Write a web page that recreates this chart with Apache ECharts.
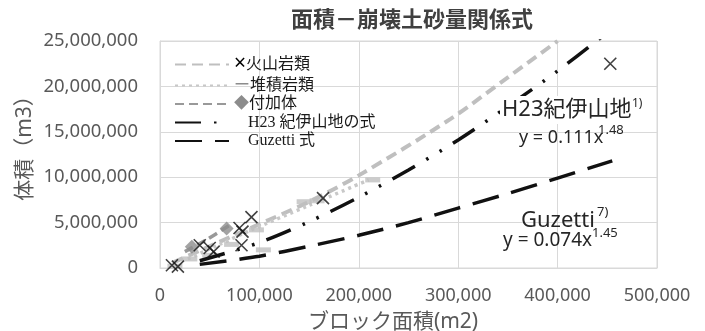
<!DOCTYPE html>
<html>
<head>
<meta charset="utf-8">
<script src="https://cdn.jsdelivr.net/npm/echarts@6/dist/echarts.min.js"></script>
<style>html,body{margin:0;padding:0;background:#fff}#c{width:705px;height:331px}</style>
</head>
<body>
<div id="c"></div>
<script>
// ---- data ----
const chartTitle = '面積－崩壊土砂量関係式';
const xAxisName = 'ブロック面積(m2)';
const yAxisName = '体積（m3）';
const xTicks = [0, 100000, 200000, 300000, 400000, 500000];
const yTicks = [0, 5000000, 10000000, 15000000, 20000000, 25000000];

// 火山岩類 observed blocks [area, volume]
const volcanicPts = [[12000,300000],[18000,150000],[40000,2500000],[50000,2200000],[54000,1800000],
  [80000,4400000],[83000,4000000],[92000,5600000],[82000,2500000],[164000,7700000],[453000,22500000]];
// 堆積岩類 observed blocks
const sedimentPts = [[15000,200000],[30000,1000000],[50000,1400000],[72000,2600000],[97000,4200000],
  [104000,2000000],[145000,7300000],[158000,7400000],[214000,9700000]];
// 付加体 observed blocks
const accretionPts = [[32000,2350000],[67000,4350000]];

// fitted curves
const volcanicFit = [[13000,600000],[50000,2400000],[91000,4400000],[150000,7300000],[200000,10200000],
  [292000,16400000],[350000,21000000],[400000,25000000]];
const sedimentFit = [[28000,1000000],[60000,2600000],[90000,4100000],[150000,6900000],[210000,9700000]];
const accretionFit = [[25000,1800000],[45000,3000000],[70000,4700000]];
const h23Fit = [[40000,800000],[100000,2800000],[150000,5100000],[200000,7800000],[250000,10800000],
  [300000,14100000],[350000,17800000],[400000,21700000],[445000,25500000]];
const guzettiFit = [[40000,400000],[100000,1300000],[150000,2400000],[200000,3600000],[250000,5000000],
  [300000,6600000],[350000,8200000],[400000,9900000],[455000,11800000]];

const legendNames = ['火山岩類','堆積岩類','付加体','H23 紀伊山地の式','Guzetti 式'];
const legendPrefix = {'火山岩類':'{x|×}','堆積岩類':'{d|ー}','付加体':'{v|◆}','H23 紀伊山地の式':'{sp|}','Guzetti 式':'{sp|}'};

const sans = "'Noto Sans','Noto Sans CJK JP',sans-serif";
const serif = "'Liberation Serif','Noto Sans CJK JP',serif";
const fmt = v => v.toLocaleString('en-US');

const chart = echarts.init(document.getElementById('c'), null, {renderer:'canvas'});
chart.setOption({
  animation: false,
  backgroundColor: '#fff',
  title: {
    text: chartTitle, left: 407, top: 5, textAlign: 'center',
    textStyle: {fontFamily: sans, fontSize: 22, fontWeight: 'bold', color: '#404040'}
  },
  grid: {left: 160, right: 48, top: 41, bottom: 63, containLabel: false, show: true, borderColor: '#d9d9d9', borderWidth: 1},
  xAxis: {
    type: 'value', min: xTicks[0], max: xTicks[xTicks.length-1], interval: xTicks[1]-xTicks[0],
    axisLine: {show: true, lineStyle: {color: '#d9d9d9'}}, axisTick: {show: false},
    splitLine: {lineStyle: {color: '#d9d9d9', width: 1}},
    axisLabel: {formatter: fmt, fontFamily: sans, fontSize: 18, color: '#595959', margin: 19}
  },
  yAxis: {
    type: 'value', min: yTicks[0], max: yTicks[yTicks.length-1], interval: yTicks[1]-yTicks[0],
    axisLine: {show: true, lineStyle: {color: '#d9d9d9'}}, axisTick: {show: false},
    splitLine: {lineStyle: {color: '#d9d9d9', width: 1}},
    axisLabel: {formatter: fmt, fontFamily: sans, fontSize: 18.5, color: '#595959', margin: 22}
  },
  legend: {
    data: legendNames, orient: 'vertical', left: 169, top: 49,
    itemWidth: 54, itemHeight: 14, itemGap: 2.5, padding: 5,
    itemStyle: {opacity: 0},
    formatter: n => legendPrefix[n] + n,
    textStyle: {fontFamily: serif, fontSize: 16, lineHeight: 15, color: '#1a1a1a',
      rich: {
        x: {fontFamily: sans, fontSize: 21, lineHeight: 15, color: '#000'},
        d: {fontFamily: sans, fontSize: 16, lineHeight: 15, color: '#8c8c8c'},
        v: {fontFamily: sans, fontSize: 15, lineHeight: 15, color: '#8c8c8c'},
        sp: {width: 14, lineHeight: 15}
      }}
  },
  series: [
    {name: '火山岩類', type: 'line', data: volcanicFit, symbol: 'none', smooth: 0.3, z: 3,
      lineStyle: {color: '#bfbfbf', width: 4, type: [11, 6]}},
    {name: '火山岩類点', type: 'scatter', data: volcanicPts, symbol: 'path://M0,0L10,10M10,0L0,10', symbolSize: 12, z: 6,
      itemStyle: {color: 'rgba(0,0,0,0)', borderColor: '#111', borderWidth: 1.6}},
    {name: '堆積岩類', type: 'line', data: sedimentFit, symbol: 'none', smooth: 0.3, z: 3,
      lineStyle: {color: '#c8c8c8', width: 3.5, type: [3, 4]}},
    {name: '堆積岩類点', type: 'scatter', data: sedimentPts, symbol: 'rect', symbolSize: [15, 5], z: 4,
      itemStyle: {color: '#bfbfbf'}},
    {name: '付加体', type: 'line', data: accretionFit, symbol: 'none', smooth: 0.3, z: 3,
      lineStyle: {color: '#999999', width: 3.5, type: [9, 5]}},
    {name: '付加体点', type: 'scatter', data: accretionPts, symbol: 'diamond', symbolSize: 14, z: 4,
      itemStyle: {color: '#8c8c8c'}},
    {name: 'H23 紀伊山地の式', type: 'line', data: h23Fit, symbol: 'none', smooth: 0.3, z: 5,
      lineStyle: {color: '#111', width: 3.5, type: [26, 13, 2.5, 13, 2.5, 13]}},
    {name: 'Guzetti 式', type: 'line', data: guzettiFit, symbol: 'none', smooth: 0.3, z: 5,
      lineStyle: {color: '#111', width: 3.5, type: [27, 13]}}
  ],
  graphic: [
    {type: 'text', x: 25, y: 143, rotation: Math.PI/2,
      style: {text: yAxisName, fontFamily: sans, fontSize: 21, fill: '#595959', align: 'center', verticalAlign: 'middle'}},
    {type: 'text', x: 393, y: 322,
      style: {text: xAxisName, fontFamily: sans, fontSize: 21, fill: '#595959', align: 'center', verticalAlign: 'middle'}},
    {type: 'text', x: 500, y: 110, z: 10,
      style: {text: 'H23紀伊山地', fontFamily: sans, fontSize: 22, fill: '#262626', align: 'left', verticalAlign: 'middle',
        backgroundColor: '#fff', padding: [6, 2, 0, 2]}},
    {type: 'text', x: 632, y: 104, z: 10,
      style: {text: '1)', fontFamily: sans, fontSize: 12, fill: '#262626', align: 'left', verticalAlign: 'middle'}},
    {type: 'text', x: 519, y: 138, z: 10,
      style: {text: 'y = 0.111x', fontFamily: sans, fontSize: 18, fill: '#262626', align: 'left', verticalAlign: 'middle'}},
    {type: 'text', x: 598, y: 130, z: 10,
      style: {text: '1.48', fontFamily: sans, fontSize: 13, fill: '#262626', align: 'left', verticalAlign: 'middle'}},
    {type: 'text', x: 521, y: 221, z: 10,
      style: {text: 'Guzetti', fontFamily: sans, fontSize: 22, fill: '#262626', align: 'left', verticalAlign: 'middle'}},
    {type: 'text', x: 597, y: 212, z: 10,
      style: {text: '7)', fontFamily: sans, fontSize: 13, fill: '#262626', align: 'left', verticalAlign: 'middle'}},
    {type: 'text', x: 503, y: 241, z: 10,
      style: {text: 'y = 0.074x', fontFamily: sans, fontSize: 19, fill: '#262626', align: 'left', verticalAlign: 'middle'}},
    {type: 'text', x: 592, y: 233, z: 10,
      style: {text: '1.45', fontFamily: sans, fontSize: 13, fill: '#262626', align: 'left', verticalAlign: 'middle'}}
  ]
});
</script>
</body>
</html>
